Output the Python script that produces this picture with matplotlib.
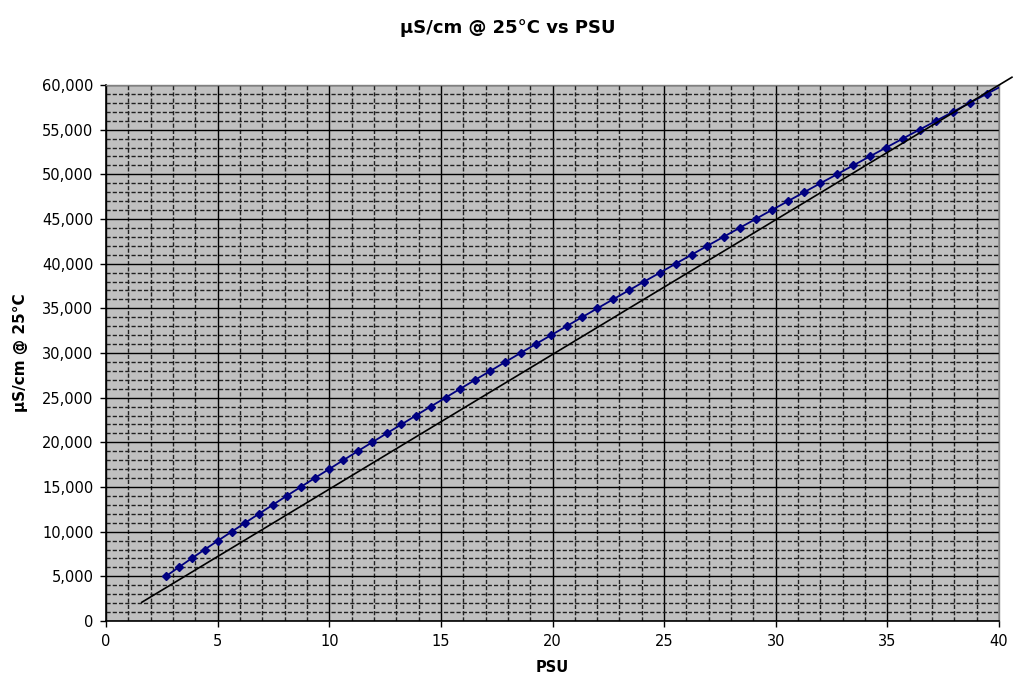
import numpy as np
import matplotlib
matplotlib.use("Agg")
import matplotlib.pyplot as plt
from matplotlib.ticker import MultipleLocator, FuncFormatter

# Conductivity (uS/cm @ 25C) and corresponding salinity (PSU)
conductivity = list(range(5000, 61000, 1000))
psu = [2.68, 3.25, 3.83, 4.42, 5.02, 5.63,
       6.24, 6.85, 7.47, 8.09, 8.72,
       9.35, 9.99, 10.63, 11.27, 11.92,
       12.57, 13.23, 13.88, 14.54, 15.21,
       15.87, 16.54, 17.22, 17.89, 18.57,
       19.25, 19.94, 20.63, 21.32, 22.01,
       22.71, 23.41, 24.11, 24.82, 25.52,
       26.23, 26.94, 27.66, 28.38, 29.10,
       29.82, 30.55, 31.27, 32.00, 32.74,
       33.47, 34.21, 34.95, 35.69, 36.44,
       37.19, 37.94, 38.69, 39.45, 40.21]

# Straight reference line (PSU, uS/cm) end points
ref_line_psu = [1.60, 40.58]
ref_line_cond = [2090, 60870]

title = "µS/cm @ 25°C vs PSU"
xlabel = "PSU"
ylabel = "µS/cm @ 25°C"

plt.rcParams['font.family'] = ['DejaVu Sans']

fig = plt.figure(figsize=(10.24, 6.97), dpi=100)
ax = fig.add_axes([106/1024, 1-621/697, (999-106)/1024, (621-85)/697])

ax.set_facecolor('#C0C0C0')
ax.set_xlim(0, 40)
ax.set_ylim(0, 60000)
ax.xaxis.set_major_locator(MultipleLocator(5))
ax.xaxis.set_minor_locator(MultipleLocator(1))
ax.yaxis.set_major_locator(MultipleLocator(5000))
ax.yaxis.set_minor_locator(MultipleLocator(1000))
ax.yaxis.set_major_formatter(FuncFormatter(lambda v, p: f"{int(v):,}"))

ax.grid(which='major', color='black', linewidth=1.0, linestyle='-')
ax.grid(which='minor', color='#202020', linewidth=1.0, linestyle=(0, (3, 1.5)))
ax.set_axisbelow(True)

ax.tick_params(which='major', direction='out', length=4, width=1, labelsize=10.5,
               colors='black', pad=5)
ax.tick_params(which='minor', length=0)

for side in ['top', 'right']:
    ax.spines[side].set_color('#808080')
    ax.spines[side].set_linewidth(1.0)
for side in ['left', 'bottom']:
    ax.spines[side].set_color('black')
    ax.spines[side].set_linewidth(1.2)

# data series
ax.plot(psu, conductivity, color='#000080', linewidth=1.3, marker='D',
        markersize=4.2, markerfacecolor='#000080', markeredgecolor='#000080',
        zorder=4)

# straight line, drawn past the plot area as in the original
ax.plot(ref_line_psu, ref_line_cond, color='black', linewidth=1.2, zorder=5,
        clip_on=False)

fig.text(0.496, 1 - 28/697, title, fontsize=13, fontweight='bold',
         ha='center', va='center')
ax.set_xlabel(xlabel, fontsize=10.5, fontweight='bold', labelpad=8)
ax.set_ylabel(ylabel, fontsize=11, fontweight='bold', labelpad=10)

fig.savefig("out.png", dpi=100)
